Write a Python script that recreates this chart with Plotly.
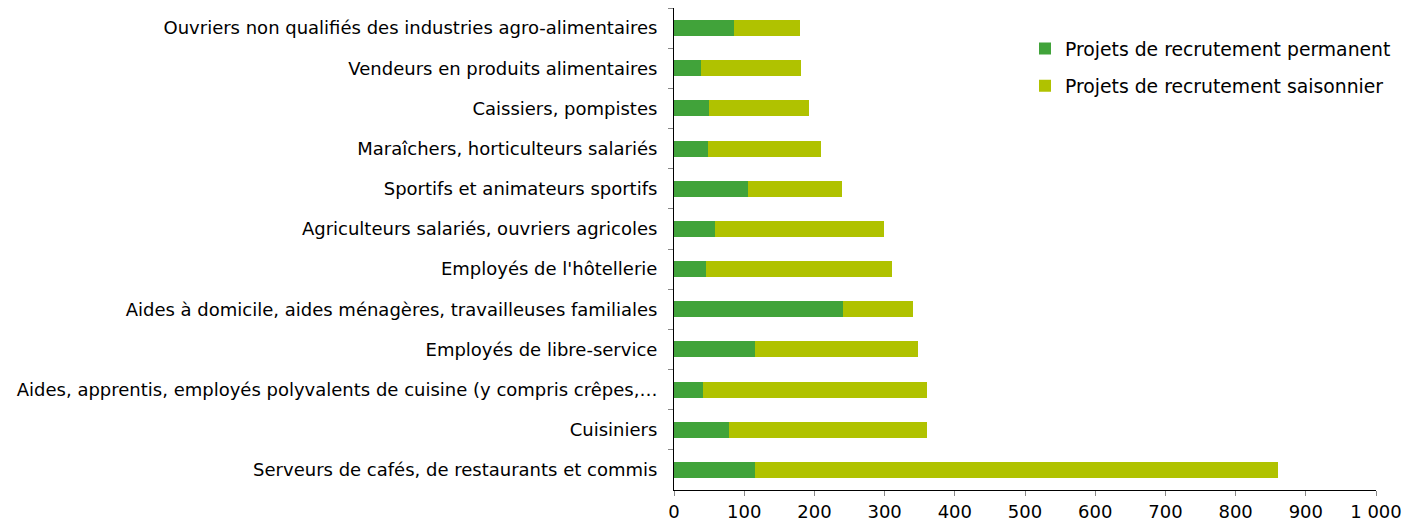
import plotly.graph_objects as go

categories = [
    "Ouvriers non qualifiés des industries agro-alimentaires",
    "Vendeurs en produits alimentaires",
    "Caissiers, pompistes",
    "Maraîchers, horticulteurs salariés",
    "Sportifs et animateurs sportifs",
    "Agriculteurs salariés, ouvriers agricoles",
    "Employés de l'hôtellerie",
    "Aides à domicile, aides ménagères, travailleuses familiales",
    "Employés de libre-service",
    "Aides, apprentis, employés polyvalents de cuisine (y compris crêpes,…",
    "Cuisiniers",
    "Serveurs de cafés, de restaurants et commis",
]
permanent = [85, 39, 50, 48, 106, 59, 45, 241, 115, 42, 78, 116]
saisonnier = [95, 142, 142, 162, 134, 240, 266, 99, 233, 318, 283, 745]
x_ticks = [0, 100, 200, 300, 400, 500, 600, 700, 800, 900, 1000]

FONT = "DejaVu Sans"

fig = go.Figure()
fig.add_trace(go.Bar(y=categories, x=permanent, orientation="h",
                     name="Projets de recrutement permanent", legendgroup="p",
                     marker=dict(color="#41A33A", line=dict(width=0))))
fig.add_trace(go.Bar(y=categories, x=saisonnier, orientation="h",
                     name="Projets de recrutement saisonnier", legendgroup="s",
                     marker=dict(color="#B0C200", line=dict(width=0))))

fig.update_layout(
    barmode="stack",
    bargap=0.6,
    width=1416, height=519,
    margin=dict(l=666, r=48, t=0, b=37),
    plot_bgcolor="white", paper_bgcolor="white",
    separators=", ",
    font=dict(family=FONT, size=18, color="#000000"),
    legend=dict(x=0.5, y=0.955, xanchor="left", yanchor="top",
                font=dict(size=18.8), traceorder="grouped", tracegroupgap=10,
                bgcolor="rgba(0,0,0,0)"),
    showlegend=True,
)
fig.update_xaxes(range=[0, 1000], tickvals=x_ticks, tickformat=",d",
                 showgrid=False, zeroline=False, showline=True, linecolor="black",
                 linewidth=1, ticks="outside", ticklen=5, tickcolor="#888888",
                 tickfont=dict(size=18), ticklabelstandoff=0, automargin=False)
fig.update_yaxes(autorange="reversed", showgrid=False, showline=True,
                 linecolor="black", linewidth=1, ticks="outside", ticklen=5,
                 tickcolor="#888888", tickson="boundaries",
                 tickfont=dict(size=18),
                 ticklabelstandoff=12, automargin=False)

fig.write_html("out.html")
